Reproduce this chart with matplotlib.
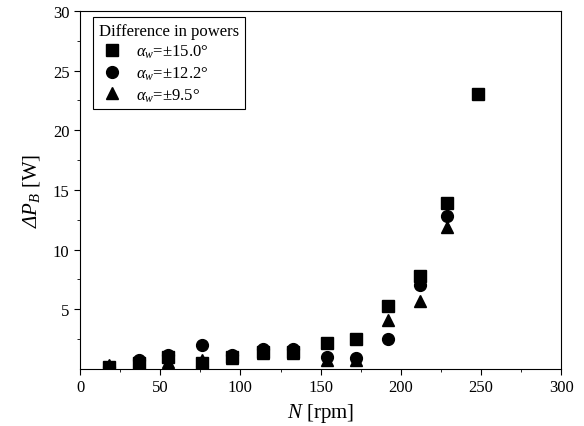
import numpy as np
import matplotlib
matplotlib.use('Agg')
import matplotlib.pyplot as plt

matplotlib.rcParams.update({'font.family': 'Liberation Serif',
                            'mathtext.fontset': 'custom',
                            'mathtext.rm': 'Liberation Serif',
                            'mathtext.it': 'Liberation Serif:italic',
                            'mathtext.sf': 'Liberation Serif:italic',  # used for italic Delta
                            'mathtext.bf': 'Liberation Serif:bold'})

# Rotational speed [rpm]
N = [18, 37, 55, 76, 95, 114, 133, 154, 172, 192, 212, 229, 248]
# Difference in powers [W]
dP_150 = [0.2, 0.5, 1.0, 0.5, 1.0, 1.4, 1.4, 2.2, 2.5, 5.3, 7.8, 13.9, 23.0]
dP_122 = [0.2, 0.75, 1.2, 2.0, 1.2, 1.7, 1.7, 1.0, 0.9, 2.5, 7.05, 12.8]
dP_95 = [0.35, 0.4, 0.6, 0.75, 0.9, 1.3, 1.3, 0.75, 0.75, 4.1, 5.7, 11.9]

fig = plt.figure(figsize=(5.84, 4.27), dpi=100)
ax = fig.add_axes([0.137, 0.1335, 0.824, 0.8385])

ax.plot(N, dP_150, 's', color='k', markersize=8, label=r'$\alpha_w$=±15.0°')
ax.plot(N[:len(dP_122)], dP_122, 'o', color='k', markersize=8.5, label=r'$\alpha_w$=±12.2°')
ax.plot(N[:len(dP_95)], dP_95, '^', color='k', markersize=9, label=r'$\alpha_w$=±9.5°')

ax.set_xlim(0, 300)
ax.set_ylim(0, 30)
ax.set_xticks(np.arange(0, 301, 50))
ax.set_xticks(np.arange(25, 300, 50), minor=True)
ax.set_yticks(np.arange(5, 31, 5))
ax.set_yticks(np.arange(2.5, 30, 5), minor=True)
ax.tick_params(axis='both', which='major', labelsize=12, direction='out', length=4)
ax.tick_params(axis='both', which='minor', direction='out', length=2)

ax.set_xlabel(r'$N$ [rpm]', fontsize=15)
ax.set_ylabel(r'$\mathsf{Δ}P_B$ [W]', fontsize=15, labelpad=8)

leg = ax.legend(loc='upper left', bbox_to_anchor=(0.027, 0.983), borderaxespad=0,
                title='Difference in powers', fontsize=12, title_fontsize=12,
                fancybox=False, edgecolor='k', framealpha=1, handlelength=1.6,
                handletextpad=0.6, labelspacing=0.25, numpoints=1, alignment='left',
                borderpad=0.35)
leg.get_frame().set_linewidth(0.8)

fig.savefig('out.png', dpi=100)
